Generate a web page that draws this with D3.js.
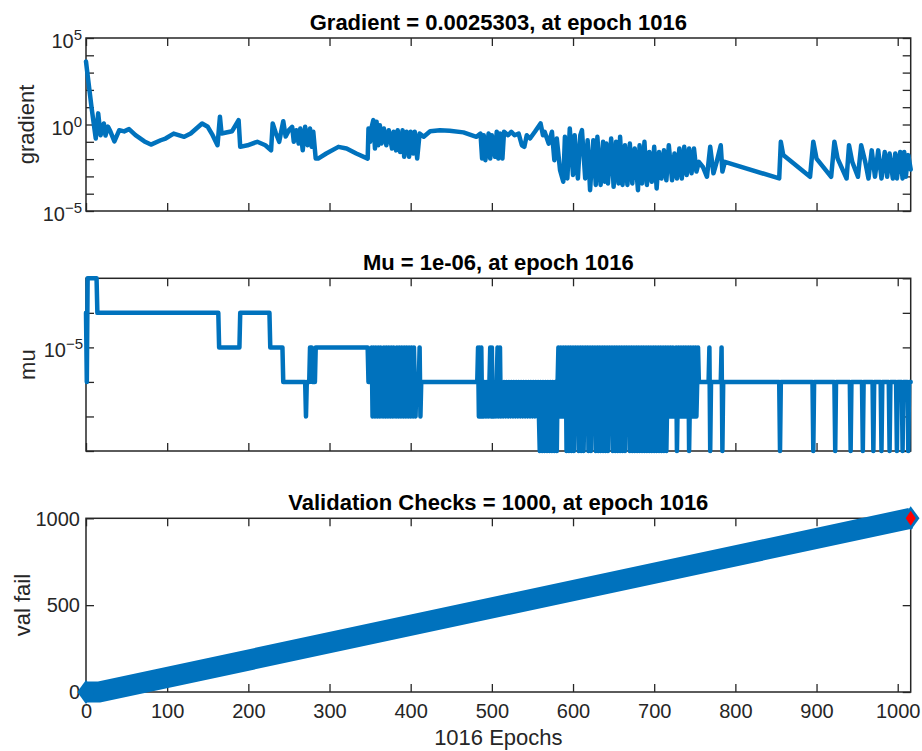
<!DOCTYPE html>
<html><head><meta charset="utf-8">
<script src="https://cdn.jsdelivr.net/npm/d3@7"></script>
<style>body{margin:0;background:#fff}svg{display:block}</style>
</head><body>
<svg id="c" width="922" height="751"></svg>
<script>
// ---------- data ----------
const epochTicks = [0,100,200,300,400,500,600,700,800,900,1000];
const maxEpoch = 1016;
const titles = ["Gradient = 0.0025303, at epoch 1016", "Mu = 1e-06, at epoch 1016", "Validation Checks = 1000, at epoch 1016"];
const yLabels = ["gradient", "mu", "val fail"];
const xLabel = "1016 Epochs";

const gradTicks = [1e-5,1e-4,1e-3,1e-2,1e-1,1,1e1,1e2,1e3,1e4,1e5];
const gradLabelExp = [-5, 0, 5];
const muTicks = [1e-8,1e-7,1e-6,1e-5,1e-4,1e-3];
const muLabelExp = [-5];
const valTicks = [0, 500, 1000];

const gradPoints = [
[0,4.4e3],[1,1.7e3],[4,120],[7,8.3],[12,0.155],[15,4.4],[18,0.24],[22,1.15],[24,0.23],[27,0.76],[30,0.40],[35,0.105],
[41,0.47],[47,0.40],[53,0.54],[61,0.24],[72,0.105],[80,0.069],[92,0.123],[98,0.155],[108,0.30],[121,0.195],[129,0.30],
[143,1.15],[150,0.74],[156,0.24],[162,0.063],[165,2.8],[167,0.30],[180,0.41],[188,1.8],[190,0.051],[199,0.063],[211,0.1],
[221,0.063],[228,0.032],[230,1.15],[234,0.30],[238,0.1],[243,1.55],[246,0.2],[250,0.47],[254,0.74],[256,0.1],[259,0.47],
[262,0.079],[264,0.59],[267,0.032],[270,0.74],[273,0.063],[276,0.59],[278,0.051],[280,0.38],[283,0.0107],[286,0.0107],
[296,0.021],[311,0.051],[321,0.041],[333,0.021],[347,0.0107],[348,0.59],[350,0.1],[352,0.74],[354,1.8],[356,0.041],
[358,1.45],[360,0.063],[362,0.91],[364,0.079],[367,0.59],[370,0.063],[373,0.47],[377,0.041],[379,0.38],[382,0.032],
[384,0.47],[387,0.026],[390,0.47],[392,0.0135],[395,0.38],[398,0.0135],[400,0.38],[403,0.021],[405,0.38],[408,0.0107],
[411,0.30],[416,0.195],[424,0.41],[436,0.47],[448,0.44],[465,0.35],[481,0.195],[486,0.30],[488,0.0107],[490,0.24],
[492,0.0087],[496,0.30],[498,0.0107],[500,0.24],[504,0.0135],[506,0.38],[508,0.0107],[510,0.30],[513,0.0107],[515,0.38],
[520,0.24],[524,0.38],[528,0.24],[533,0.30],[537,0.063],[540,0.051],[543,0.24],[547,0.155],[553,0.38],[560,1.15],
[563,0.24],[565,0.38],[570,0.079],[574,0.38],[577,0.0087],[580,0.155],[584,0.0023],[588,4.9e-4],[590,0.195],[593,7.6e-4],
[596,0.59],[600,1.2e-3],[602,0.24],[606,7.6e-4],[609,0.24],[611,0.47],[615,7.6e-4],[618,0.123],[621,1.6e-4],[625,0.123],
[628,3.2e-4],[630,0.195],[634,3.2e-4],[637,0.1],[639,4.9e-4],[641,0.079],[643,3.9e-4],[647,0.155],[650,2.5e-4],[653,0.1],
[656,3.9e-4],[658,0.195],[661,3.2e-4],[664,0.063],[667,3.2e-4],[670,0.079],[673,3.9e-4],[676,0.041],[680,1.6e-4],
[682,0.063],[685,3.9e-4],[688,0.1],[691,3.2e-4],[694,0.026],[697,4.9e-4],[700,0.051],[703,2e-4],[706,0.026],[709,7.6e-4],
[712,0.032],[715,6e-4],[718,0.063],[722,6e-4],[725,0.021],[728,7.6e-4],[731,0.041],[734,7.6e-4],[737,0.051],[740,1.2e-3],
[743,0.041],[746,1.5e-3],[749,0.041],[752,1.9e-3],[755,6.9e-3],[760,3.5e-3],[765,9.5e-4],[769,0.051],[773,1.5e-3],
[777,6.9e-3],[782,0.063],[784,1.9e-3],[787,6.9e-3],[854,7.6e-4],[856,0.1],[859,0.017],[892,9.5e-4],[896,0.1],[900,0.0107],
[918,9.5e-4],[922,0.1],[926,0.0107],[937,7.6e-4],[940,0.063],[944,6.9e-3],[951,9.5e-4],[955,0.063],[960,6.9e-3],
[964,7.6e-4],[968,0.032],[972,9.5e-4],[976,0.032],[980,7.6e-4],[984,0.026],[987,9.5e-4],[990,0.021],[994,7.6e-4],
[997,0.021],[999,7.6e-4],[1003,0.026],[1006,7.6e-4],[1008,0.026],[1010,9.5e-4],[1013,0.017],[1016,2.5303e-3]
];

const muPoints = [
[0,1e-4],[1,1e-6],[2,1e-3],[13,1e-3],[14,1e-4],[163,1e-4],[164,1e-5],[189,1e-5],[190,1e-4],[226,1e-4],[227,1e-5],
[242,1e-5],[243,1e-6],[270,1e-6],[271,1e-7],[272,1e-6],[275,1e-6],[276,1e-5],[278,1e-5],[279,1e-6],[282,1e-6],[283,1e-5],
[347,1e-5],[348,1e-6],[351,1e-6],
[352,1e-5],[353,1e-7],[354,1e-5],[356,1e-7],[357,1e-5],[359,1e-7],[360,1e-5],[362,1e-7],[363,1e-5],[365,1e-6],[366,1e-7],
[367,1e-5],[369,1e-7],[370,1e-5],[372,1e-7],[373,1e-5],[375,1e-7],[376,1e-5],[378,1e-7],[379,1e-5],[381,1e-6],[382,1e-7],
[383,1e-5],[385,1e-7],[386,1e-5],[388,1e-7],[389,1e-5],[391,1e-7],[392,1e-5],[394,1e-7],[395,1e-5],[397,1e-7],[398,1e-5],
[400,1e-7],[401,1e-5],[403,1e-7],[404,1e-5],[406,1e-7],[407,1e-6],[410,1e-6],[411,1e-5],[412,1e-7],[413,1e-6],[482,1e-6],
[483,1e-5],[484,1e-7],[485,1e-5],[486,1e-7],[487,1e-5],[488,1e-7],[489,1e-6],[490,1e-7],[491,1e-6],[492,1e-7],[493,1e-6],
[494,1e-7],[495,1e-6],[496,1e-7],[497,1e-6],[498,1e-5],[499,1e-7],[500,1e-5],[501,1e-7],[502,1e-6],[503,1e-7],[504,1e-6],
[505,1e-7],[506,1e-6],[507,1e-5],[508,1e-7],[510,1e-5],[511,1e-7],[512,1e-6],[514,1e-7],[515,1e-6],[517,1e-7],[518,1e-6],
[520,1e-7],[521,1e-6],[523,1e-7],[524,1e-6],[526,1e-7],[527,1e-6],[529,1e-7],[530,1e-6],[532,1e-7],[533,1e-6],[535,1e-7],
[536,1e-6],[538,1e-7],[539,1e-6],[541,1e-7],[542,1e-6],[544,1e-7],[545,1e-6],[547,1e-7],[548,1e-6],[550,1e-7],[551,1e-6],
[553,1e-7],[554,1e-6],[556,1e-7],[557,1e-6],[559,1e-8],[560,1e-6],[562,1e-8],[563,1e-6],[565,1e-8],[566,1e-6],[568,1e-8],
[569,1e-6],[571,1e-8],[572,1e-6],[574,1e-8],[575,1e-6],[577,1e-8],[578,1e-6],[580,1e-8],[581,1e-6],
[582,1e-5],[583,1e-7],[585,1e-5],[586,1e-7],[588,1e-5],[589,1e-7],[591,1e-5],[592,1e-8],[594,1e-5],[595,1e-8],[597,1e-5],
[598,1e-8],[600,1e-5],[601,1e-8],[603,1e-5],[604,1e-7],[606,1e-5],[607,1e-8],[609,1e-5],[610,1e-8],[612,1e-5],[613,1e-8],
[615,1e-5],[616,1e-7],[618,1e-5],[619,1e-8],[621,1e-5],[622,1e-8],[624,1e-5],[625,1e-7],[627,1e-5],[628,1e-8],[630,1e-5],
[631,1e-8],[633,1e-5],[634,1e-8],[636,1e-5],[637,1e-8],[639,1e-5],[640,1e-8],[642,1e-5],[643,1e-8],[645,1e-5],[646,1e-7],
[648,1e-5],[649,1e-8],[651,1e-5],[652,1e-8],[654,1e-5],[655,1e-8],[657,1e-5],[658,1e-8],[660,1e-5],[661,1e-8],[663,1e-5],
[664,1e-8],[666,1e-5],[667,1e-7],[669,1e-5],[670,1e-8],[672,1e-5],[673,1e-8],[675,1e-5],[676,1e-8],[678,1e-5],[679,1e-8],
[681,1e-5],[682,1e-8],[684,1e-5],[685,1e-8],[687,1e-5],[688,1e-8],[690,1e-5],[691,1e-8],[693,1e-5],[694,1e-8],[696,1e-5],
[697,1e-8],[699,1e-5],[700,1e-8],[702,1e-5],[703,1e-8],[705,1e-5],[706,1e-8],[708,1e-5],[709,1e-8],[711,1e-5],[712,1e-8],
[714,1e-5],[715,1e-8],[717,1e-5],[718,1e-7],[720,1e-5],[721,1e-7],[723,1e-5],[724,1e-7],[727,1e-5],[728,1e-8],[730,1e-5],
[731,1e-7],[733,1e-5],[734,1e-7],[736,1e-5],[737,1e-7],[739,1e-5],[740,1e-7],[742,1e-5],[743,1e-8],[745,1e-5],[746,1e-7],
[748,1e-5],[749,1e-7],[751,1e-5],[752,1e-7],[754,1e-5],[755,1e-6],
[767,1e-6],[768,1e-5],[769,1e-8],[770,1e-6],[782,1e-6],[783,1e-5],[784,1e-8],[785,1e-6],[854,1e-6],[855,1e-8],[856,1e-6],
[895,1e-6],[896,1e-8],[897,1e-6],[922,1e-6],[923,1e-8],[924,1e-6],[941,1e-6],[942,1e-8],[943,1e-6],[956,1e-6],[957,1e-8],
[958,1e-6],[969,1e-6],[970,1e-8],[971,1e-6],[979,1e-6],[980,1e-8],[981,1e-6],[989,1e-6],[990,1e-8],[991,1e-6],[998,1e-6],
[999,1e-8],[1000,1e-6],[1005,1e-6],[1006,1e-8],[1007,1e-6],[1012,1e-6],[1013,1e-8],[1014,1e-6],[1016,1e-6]
];

const valEpochs = [0, 16, 1016];
const valValues = [0, 0, 1000];
const bestPoint = [1016, 1000];

// ---------- layout ----------
const FONT = "'Liberation Sans', Arial, Helvetica, sans-serif";
const AX = "#262626";
const BLUE = "#0072BD";
const L = 86, R = 910.7;
const panels = [{top:38, bot:211}, {top:278.3, bot:451}, {top:518.3, bot:692}];

const svg = d3.select("#c").style("font-family", FONT);
const x = d3.scaleLinear().domain([0, maxEpoch]).range([L, R]);

const yScales = [
  d3.scaleLog().domain([1e-5, 1e5]).range([panels[0].bot, panels[0].top]),
  d3.scaleLog().domain([1e-8, 1e-3]).range([panels[1].bot, panels[1].top]),
  d3.scaleLinear().domain([0, 1000]).range([panels[2].bot, panels[2].top])
];
const yTickSets = [gradTicks, muTicks, valTicks];
const tickLen = 8;

function drawFrame(i) {
  const p = panels[i], y = yScales[i];
  const g = svg.append("g");
  const xb = d3.axisBottom(x).tickValues(epochTicks).tickSizeInner(-tickLen).tickSizeOuter(0)
    .tickPadding(10).tickFormat(d3.format("d"));
  const xa = g.append("g").attr("transform", `translate(0,${p.bot})`).call(xb);
  xa.select(".domain").remove();
  xa.selectAll("line").attr("stroke", AX).attr("stroke-width", 1.3);
  if (i === 2) {
    xa.selectAll("text").attr("font-size", 20).attr("fill", AX).attr("font-family", FONT).attr("dy", null).attr("y", 26);
  } else xa.selectAll("text").remove();
  const xt = d3.axisTop(x).tickValues(epochTicks).tickSizeInner(-tickLen).tickSizeOuter(0).tickFormat("");
  const xta = g.append("g").attr("transform", `translate(0,${p.top})`).call(xt);
  xta.select(".domain").remove();
  xta.selectAll("line").attr("stroke", AX).attr("stroke-width", 1.3);
  const yl = d3.axisLeft(y).tickValues(yTickSets[i]).tickSizeInner(-tickLen).tickSizeOuter(0).tickFormat("");
  const yla = g.append("g").attr("transform", `translate(${L},0)`).call(yl);
  yla.select(".domain").remove();
  yla.selectAll("line").attr("stroke", AX).attr("stroke-width", 1.3);
  const yr = d3.axisRight(y).tickValues(yTickSets[i]).tickSizeInner(-tickLen).tickSizeOuter(0).tickFormat("");
  const yra = g.append("g").attr("transform", `translate(${R},0)`).call(yr);
  yra.select(".domain").remove();
  yra.selectAll("line").attr("stroke", AX).attr("stroke-width", 1.3);
  g.append("rect").attr("x", L).attr("y", p.top).attr("width", R - L).attr("height", p.bot - p.top)
    .attr("fill", "none").attr("stroke", AX).attr("stroke-width", 1.5);
  svg.append("text").attr("x", (L + R) / 2).attr("y", p.top - 8.5).attr("text-anchor", "middle")
    .attr("font-weight", "bold").attr("font-size", 22).attr("fill", "#000").text(titles[i]);
}
[0,1,2].forEach(drawFrame);

function powLabel(yPos, exp, xEnd) {
  const t = svg.append("text").attr("x", xEnd).attr("y", yPos + 10).attr("text-anchor", "end")
    .attr("fill", AX).attr("font-size", 20);
  t.append("tspan").text("10");
  t.append("tspan").attr("dy", -8).attr("font-size", 15).text(String(exp).replace("-", "\u2212"));
}
gradLabelExp.forEach(e => powLabel(yScales[0](Math.pow(10, e)), e, 82));
muLabelExp.forEach(e => powLabel(yScales[1](Math.pow(10, e)), e, 83));
valTicks.forEach(v => svg.append("text").attr("x", 80).attr("y", yScales[2](v)).attr("dy", "0.36em")
  .attr("text-anchor", "end").attr("fill", AX).attr("font-size", 20).text(v));

const yLabX = [34, 35, 30];
yLabels.forEach((s, i) => {
  const cy = (panels[i].top + panels[i].bot) / 2;
  svg.append("text").attr("transform", `translate(${yLabX[i]},${cy}) rotate(-90)`).attr("text-anchor", "middle")
    .attr("fill", AX).attr("font-size", 22).text(s);
});
svg.append("text").attr("x", (L + R) / 2).attr("y", 745).attr("text-anchor", "middle")
  .attr("fill", AX).attr("font-size", 22).text(xLabel);

// ---------- series ----------
const line0 = d3.line().x(d => x(d[0])).y(d => yScales[0](d[1]));
svg.append("path").datum(gradPoints).attr("d", line0).attr("fill", "none").attr("stroke", BLUE)
  .attr("stroke-width", 4.5).attr("stroke-linejoin", "round").attr("stroke-linecap", "round");

const line1 = d3.line().x(d => x(d[0])).y(d => yScales[1](d[1]));
svg.append("path").datum(muPoints).attr("d", line1).attr("fill", "none").attr("stroke", BLUE)
  .attr("stroke-width", 4.5).attr("stroke-linejoin", "round").attr("stroke-linecap", "round");

const valData = valEpochs.map((e, k) => [e, valValues[k]]);
const line2 = d3.line().x(d => x(d[0])).y(d => yScales[2](d[1]));
svg.append("path").datum(valData).attr("d", line2).attr("fill", "none").attr("stroke", BLUE)
  .attr("stroke-width", 21).attr("stroke-linejoin", "miter").attr("stroke-linecap", "butt");
function diamond(cx, cy, hw, hh) {
  return `M${cx - hw},${cy}L${cx},${cy - hh}L${cx + hw},${cy}L${cx},${cy + hh}Z`;
}
[valData[0], valData[valData.length - 1]].forEach(d => {
  svg.append("path").attr("d", diamond(x(d[0]), yScales[2](d[1]), 8.8, 12)).attr("fill", BLUE);
});
svg.append("path").attr("d", diamond(x(bestPoint[0]), yScales[2](bestPoint[1]), 5, 7.5)).attr("fill", "#FF0000");
</script>
</body></html>
